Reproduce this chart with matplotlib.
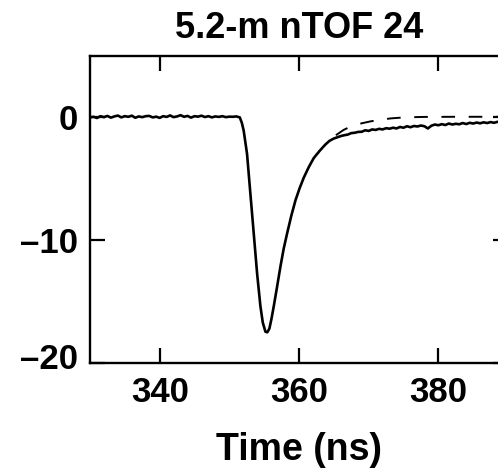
import numpy as np
import matplotlib
matplotlib.use("Agg")
import matplotlib.pyplot as plt
from matplotlib.transforms import ScaledTranslation

# ---------------- data ----------------
title = "5.2-m nTOF 24"
xlabel = "Time (ns)"
x_ticks = [340, 360, 380]
x_ticklabels = ["340", "360", "380"]
y_ticks = [-20, -10, 0]
y_ticklabels = ["\u201320", "\u201310", "0"]

# baseline before the pulse (330 .. 351 ns, 0.5 ns step)
base_t = np.arange(330.0, 351.01, 0.5)
base_v = [0.00, 0.05, -0.05, 0.10, 0.02, 0.12, -0.02, 0.08, 0.15, 0.00,
          0.10, 0.05, 0.14, -0.03, 0.08, 0.02, 0.10, 0.12, 0.00, 0.06,
          -0.04, 0.10, 0.04, 0.16, 0.02, 0.08, 0.18, 0.05, 0.12, -0.02,
          0.10, 0.06, 0.14, 0.03, 0.10, 0.00, 0.08, 0.04, 0.10, 0.02,
          0.06, 0.05, 0.08]

# pulse
pulse_t = [351.5, 351.8, 352.06, 352.54, 353.02, 353.5, 353.98, 354.46, 354.8,
           355.18, 355.45, 355.75, 356.05, 356.38, 356.85, 357.34, 357.8, 358.3,
           358.9, 359.5, 360.1, 360.69, 361.4, 362.13, 363.0, 363.8, 364.4]
pulse_v = [0.0, -0.45, -1.08, -2.96, -6.2, -9.43, -12.67, -15.37, -16.7,
           -17.45, -17.5, -17.2, -16.4, -15.37, -13.8, -12.13, -10.7, -9.43,
           -8.0, -6.74, -5.75, -4.9, -4.05, -3.3, -2.7, -2.2, -1.9]

# tail (365 .. 390 ns, 0.5 ns step)
tail_t = np.arange(365.0, 390.01, 0.5)
tail_v = [-1.72, -1.62, -1.52, -1.45, -1.40, -1.28, -1.25, -1.18, -1.17, -1.05,
          -1.10, -0.98, -1.02, -0.93, -0.98, -0.88, -0.92, -0.84, -0.90, -0.78,
          -0.84, -0.72, -0.80, -0.70, -0.74, -0.66, -0.72, -0.90, -0.68, -0.58,
          -0.64, -0.55, -0.62, -0.50, -0.58, -0.52, -0.56, -0.46, -0.54, -0.44,
          -0.50, -0.42, -0.48, -0.40, -0.46, -0.38, -0.44, -0.36, -0.42, -0.35,
          -0.38]

# dashed fit
fit_t = [365.3, 366.4, 367.5, 369.0, 370.3, 371.8, 373.2, 375.1, 378.0, 382.8, 387.6, 390.0]
fit_v = [-1.45, -1.02, -0.72, -0.48, -0.32, -0.18, -0.08, 0.0, 0.04, 0.05, 0.05, 0.05]

sig_t = np.concatenate([base_t, pulse_t, tail_t])
sig_v = np.concatenate([base_v, pulse_v, tail_v])

# ---------------- plot ----------------
plt.rcParams['font.family'] = ['Liberation Sans', 'DejaVu Sans']
plt.rcParams['font.weight'] = 'bold'

fig = plt.figure(figsize=(4.98, 4.71), dpi=100)
ax = fig.add_axes([90 / 498, 108 / 471, 418 / 498, 307 / 471])

ax.plot(sig_t, sig_v, color='black', lw=1.9, solid_joinstyle='round')
fl, = ax.plot(fit_t, fit_v, color='black', lw=1.4)
fl.set_dashes((7, 7))

ax.set_xlim(330, 390)
ax.set_ylim(-20, 5)

ax.set_xticks(x_ticks)
ax.set_xticklabels(x_ticklabels, fontsize=25, fontweight='bold')
ax.set_yticks(y_ticks)
ax.set_yticklabels(y_ticklabels, fontsize=25, fontweight='bold')

ax.tick_params(direction='in', length=11, width=1.6, top=True, right=True)
ax.tick_params(axis='x', pad=9)
ax.tick_params(axis='y', pad=9)
for s in ax.spines.values():
    s.set_linewidth(1.7)

ax.set_title(title, fontsize=26, fontweight='bold', pad=13)
ax.set_xlabel(xlabel, fontsize=27, fontweight='bold', labelpad=17)

# the -20 label sits a little above its tick in the reference
lbl = ax.yaxis.get_major_ticks()[0].label1
lbl.set_transform(lbl.get_transform() + ScaledTranslation(0, 7 / 100, fig.dpi_scale_trans))

fig.savefig("out.png", dpi=100)
